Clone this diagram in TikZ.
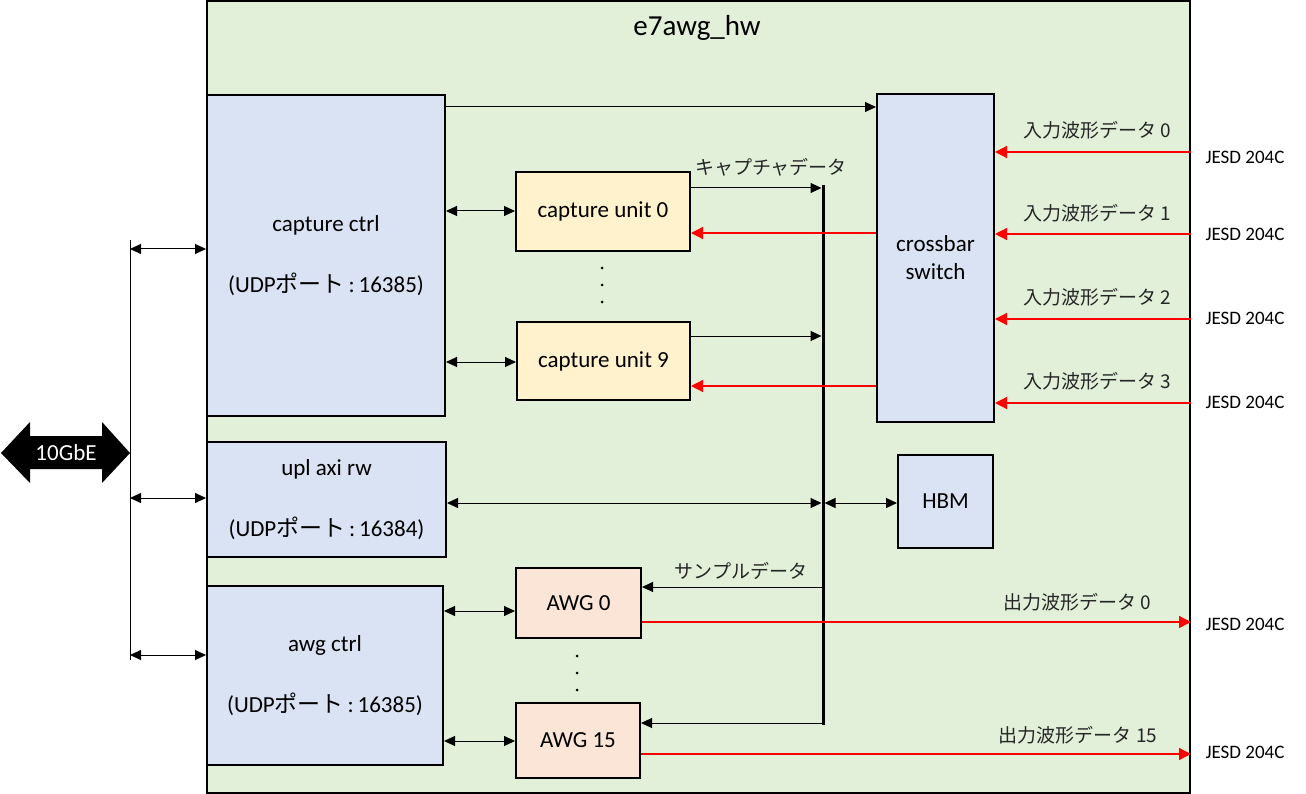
\documentclass[tikz,border=0pt]{standalone}
\usepackage{fontspec}
\setmainfont{Carlito}
\newfontfamily\cjk{Noto Sans CJK JP}
\usetikzlibrary{arrows.meta,calc}
\definecolor{bggreen}{HTML}{E2F0D9}
\definecolor{boxblue}{HTML}{DAE3F3}
\definecolor{boxyellow}{HTML}{FFF2CC}
\definecolor{boxpeach}{HTML}{FBE5D6}
\definecolor{myred}{HTML}{FF0000}
\tikzset{
  blk/.style={draw=black, line width=2pt, inner sep=0pt, align=center, font=\fontsize{23}{28}\selectfont},
  arr/.style={line width=1pt, -{Triangle[length=11pt,width=10pt]}},
  darr/.style={line width=1pt, {Triangle[length=11pt,width=10pt]}-{Triangle[length=11pt,width=10pt]}},
  rarr/.style={line width=1.3pt, draw=myred, -{Triangle[length=12pt,width=12pt,fill=myred]}},
  jlbl/.style={font=\cjk\fontsize{19}{22}\selectfont, inner sep=0pt, text=black!85},
  jesd/.style={font=\fontsize{19}{22}\selectfont, inner sep=0pt},
  dotm/.style={circle, fill=black, inner sep=0pt, minimum size=3pt},
}
\begin{document}
\begin{tikzpicture}[x=1pt,y=-1pt]
\useasboundingbox (0,0) rectangle (1306,794);
% main frame
\node[draw=black, line width=2pt, fill=bggreen, minimum width=983pt, minimum height=792pt, inner sep=0pt] (hw) at (698.5,397) {};
\node[font=\fontsize{29}{32}\selectfont, inner sep=0pt] (title) at (697,28) {e7awg\_hw};
% blocks
\node[blk, fill=boxblue, minimum width=238pt, minimum height=321pt] (cc) at (326,255.5) {capture ctrl\\[33pt](UDP{\cjk ポート}\,:\,16385)};
\node[blk, fill=boxblue, minimum width=239pt, minimum height=115pt] (upl) at (326.5,499.5) {upl axi rw\\[33pt](UDP{\cjk ポート}\,:\,16384)};
\node[blk, fill=boxblue, minimum width=236pt, minimum height=179pt] (ac) at (325,675.5) {awg ctrl\\[33pt](UDP{\cjk ポート}\,:\,16385)};
\node[blk, fill=boxyellow, minimum width=174pt, minimum height=79pt] (cu0) at (603,211.5) {capture unit 0};
\node[blk, fill=boxyellow, minimum width=173pt, minimum height=78pt] (cu9) at (603.5,361) {capture unit 9};
\node[blk, fill=boxpeach, minimum width=125pt, minimum height=70pt] (awg0) at (578.5,603) {AWG 0};
\node[blk, fill=boxpeach, minimum width=124pt, minimum height=75pt] (awg15) at (578,740.5) {AWG 15};
\node[blk, fill=boxblue, minimum width=117pt, minimum height=328pt] (xb) at (935.5,258) {crossbar\\switch};
\node[blk, fill=boxblue, minimum width=95pt, minimum height=93pt] (hbm) at (945.5,501.5) {HBM};
% dots
\node[dotm] (d1) at (602,268) {};
\node[dotm] (d2) at (602,285) {};
\node[dotm] (d3) at (602,302) {};
\node[dotm] (d4) at (577,656) {};
\node[dotm] (d5) at (577,673) {};
\node[dotm] (d6) at (577,690) {};
% internal bus
\coordinate (bt) at (823,185);
\coordinate (bb) at (823,725);
\draw[line width=3pt] (bt) -- (bb);
% capture ctrl -> crossbar
\draw[arr] (cc.east |- 0,107) -- (xb.west |- 0,107);
% capture ctrl <-> capture units
\draw[darr] (cc.east |- 0,211) -- (cu0.west |- 0,211);
\draw[darr] (cc.east |- 0,362) -- (cu9.west |- 0,362);
% capture units -> bus
\draw[arr, shorten >=1.5pt] (cu0.east |- 0,188) -- (bt |- 0,188);
\draw[arr, shorten >=1.5pt] (cu9.east |- 0,336) -- (bt |- 0,336);
\node[jlbl] (lcap) at (771,167) {キャプチャデータ};
% crossbar -> capture units (red)
\draw[rarr] (xb.west |- 0,233) -- (cu0.east |- 0,233);
\draw[rarr] (xb.west |- 0,386) -- (cu9.east |- 0,386);
% upl <-> bus, bus <-> HBM
\draw[darr, shorten >=1.5pt] (upl.east |- 0,503) -- (bt |- 0,503);
\draw[darr, shorten <=1.5pt] (bt |- 0,503) -- (hbm.west |- 0,503);
% bus -> AWGs
\draw[arr] (bt |- 0,587) -- (awg0.east |- 0,587);
\draw[arr] (bt |- 0,723) -- (awg15.east |- 0,723);
\node[jlbl] (lsmp) at (741,571) {サンプルデータ};
% awg ctrl <-> AWGs
\draw[darr] (ac.east |- 0,611) -- (awg0.west |- 0,611);
\draw[darr] (ac.east |- 0,741) -- (awg15.west |- 0,741);
% outputs
\draw[rarr] (awg0.east |- 0,622) -- (hw.east |- 0,622);
\draw[rarr] (awg15.east |- 0,754) -- (hw.east |- 0,754);
\node[jlbl] (lo0) at (1077,602) {出力波形データ 0};
\node[jlbl] (lo15) at (1078,735) {出力波形データ 15};
\node[jesd] (j4) at (1245,624) {JESD 204C};
\node[jesd] (j5) at (1245,752) {JESD 204C};
% inputs
\foreach \yy/\nn/\ly/\jy in {152/0/130/157, 234/1/213/234, 319/2/297/318, 403/3/381/402}{
  \draw[rarr] (hw.east |- 0,\yy) -- (xb.east |- 0,\yy);
  \node[jlbl] (li\nn) at (1097,\ly) {入力波形データ \nn};
  \node[jesd] (ji\nn) at (1245,\jy) {JESD 204C};
}
% external bus
\coordinate (lt) at (130,240);
\coordinate (lb) at (130,660);
\draw[line width=1pt] (lt) -- (lb);
\draw[darr] (lt |- 0,249) -- (cc.west |- 0,249);
\draw[darr] (lt |- 0,498) -- (upl.west |- 0,498);
\draw[darr] (lt |- 0,655) -- (ac.west |- 0,655);
% 10GbE double arrow
\fill[black] (1,453) -- (30,422) -- (30,436) -- (102,436) -- (102,422) -- (130,453)
  -- (102,483) -- (102,469) -- (30,469) -- (30,483) -- cycle;
\node[text=white, font=\fontsize{23}{26}\selectfont, inner sep=0pt] (gbe) at (66,453) {10GbE};
\end{tikzpicture}
\end{document}
